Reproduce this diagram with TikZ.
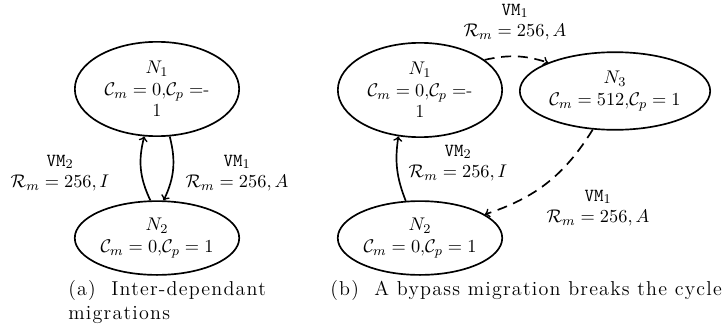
\documentclass[tikz,border=0pt]{standalone}
\usepackage{amsmath}
\usepackage{amssymb}
\usepackage{fontspec}
\newfontfamily\capfont[LetterSpace=6]{Latin Modern Roman}
\usepackage{tikz}
\usetikzlibrary{shapes,arrows,positioning,calc}

\begin{document}
\begin{tikzpicture}[x=0.021cm, y=-0.021cm,
    host/.style={ellipse, draw=black, line width=1pt, minimum width=3.45cm, minimum height=1.55cm, inner sep=1pt, align=center, font=\fontsize{11}{12.8}\selectfont},
    mig/.style={->, line width=1pt, >=to},
    lbl/.style={align=center, inner sep=1pt, font=\fontsize{11}{12.8}\selectfont},
    subcap/.style={anchor=north west, align=left, inner sep=0pt, font=\capfont\fontsize{12}{14.6}\selectfont}]

\useasboundingbox (0,0) rectangle (724,328);

% (a) two nodes waiting on each other
\node[host, minimum height=1.98cm] (a1) at (157, 89) {$N_1$\\$\mathcal{C}_m=0$,$\mathcal{C}_p=$-\\1};
\node[host] (a2) at (157, 238) {$N_2$\\$\mathcal{C}_m=0$,$\mathcal{C}_p=1$};

\draw[mig] (a2.100) to[bend left=20] (a1.255);
\draw[mig] (a1.285) to[bend left=20] (a2.80);

\node[lbl] (a21) at (60, 173) {\texttt{VM}$_2$\\$\mathcal{R}_m=256,I$};
\node[lbl] (a12) at (237, 173) {\texttt{VM}$_1$\\$\mathcal{R}_m=256,A$};

\node[subcap] (capa) at (68, 280) {(a)\ \ Inter-dependant\\migrations};

% (b) the bypass through N3
\node[host, minimum height=1.98cm] (b1) at (420, 90) {$N_1$\\$\mathcal{C}_m=0$,$\mathcal{C}_p=$-\\1};
\node[host, minimum height=1.63cm] (b3) at (615, 91) {$N_3$\\$\mathcal{C}_m=512$,$\mathcal{C}_p=1$};
\node[host] (b2) at (420, 238) {$N_2$\\$\mathcal{C}_m=0$,$\mathcal{C}_p=1$};

\draw[mig, dash pattern=on 6pt off 4pt] (b1.25) to[bend left=15] (b3.157);
\draw[mig, dash pattern=on 6pt off 4pt] (b3.240) to[bend left=20] (b2.20);
\draw[mig] (b2.111) to[bend left=15] (b1.245);

\node[lbl] (b13) at (515, 22) {\texttt{VM}$_1$\\$\mathcal{R}_m=256,A$};
\node[lbl] (b21) at (458, 163) {\texttt{VM}$_2$\\$\mathcal{R}_m=256,I$};
\node[lbl] (b32) at (598, 208) {\texttt{VM}$_1$\\$\mathcal{R}_m=256,A$};

\node[subcap] (capb) at (330, 280) {(b)\ \ A bypass migration breaks the cycle};

\end{tikzpicture}
\end{document}
